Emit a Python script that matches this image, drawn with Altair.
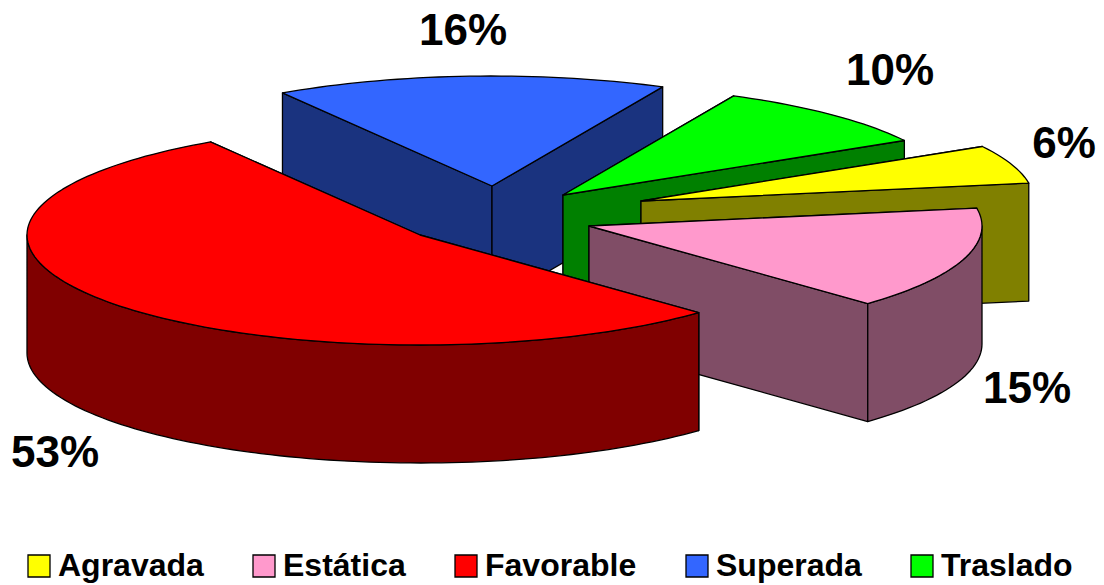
import math
import altair as alt
import pandas as pd

# ---- data
categories = ["Agravada", "Estática", "Favorable", "Superada", "Traslado"]
shares = [5.65, 15.05, 53.6, 16.1, 9.6]   # share of the drawn circle, as measured
labels = ["6%", "15%", "53%", "16%", "10%"]
top_colors = ["#ffff00", "#ff99cc", "#ff0000", "#3366ff", "#00ff00"]
side_colors = ["#808000", "#804d66", "#800000", "#1a337f", "#008000"]

# ---- layout of the exploded, tilted pie (pixels of the plot area)
W, H = 1088, 575
RX, RY, DEPTH = 393, 110, 118
START = 330.3
apex_x = [633, 581, 412, 484, 555]
apex_y = [193, 218, 227, 178, 187]
label_x = [1056, 1019, 47, 455, 882]
label_y = [137, 382, 446, 24, 64]
draw_order = [3, 4, 0, 1, 2]


def rim(cx, cy, a0, a1):
    n = max(2, int(abs(a1 - a0) / 1.5))
    return [(cx + RX * math.cos(math.radians(a0 + (a1 - a0) * i / n)),
             cy + RY * math.sin(math.radians(a0 + (a1 - a0) * i / n))) for i in range(n + 1)]


def feature(points, key):
    ring = [[float(x), float(y)] for x, y in points]
    ring.append(ring[0])
    return {"type": "Feature", "properties": {"key": key},
            "geometry": {"type": "Polygon", "coordinates": [ring]}}


def drop(points):
    return [(x, y + DEPTH) for x, y in points]


starts, a = [], START
for s in shares:
    starts.append(a)
    a += s * 3.6

features = []
for i in draw_order:
    cx, cy = apex_x[i], apex_y[i]
    a0 = starts[i]
    a1 = a0 + shares[i] * 3.6
    side = categories[i] + " (lado)"
    arc = rim(cx, cy, a0, a1)
    for end in (arc[0], arc[-1]):
        wall = [(cx, cy), end]
        features.append(feature(wall + drop(wall)[::-1], side))
    # outer wall: only the part of the rim that faces the viewer
    for k in range(-1, 2):
        lo, hi = max(a0, k * 360), min(a1, k * 360 + 180)
        if hi > lo:
            band = rim(cx, cy, lo, hi)
            features.append(feature(band + drop(band)[::-1], side))
    features.append(feature([(cx, cy)] + arc, categories[i]))

fill_domain = categories + [c + " (lado)" for c in categories]
fill_range = top_colors + side_colors

pie = alt.Chart(alt.InlineData(values=features)).mark_geoshape(
    stroke="black", strokeWidth=1.3, strokeJoin="round"
).encode(
    fill=alt.Fill(
        "properties.key:N",
        scale=alt.Scale(domain=fill_domain, range=fill_range),
        legend=alt.Legend(
            values=categories, title=None, orient="none", legendX=15, legendY=542,
            direction="horizontal", columns=5, symbolType="square", symbolSize=484,
            symbolStrokeColor="black", symbolStrokeWidth=1.3, labelFont="Liberation Sans",
            labelFontWeight="bold", labelFontSize=32, labelColor="black", labelLimit=400,
            columnPadding=44, labelOffset=3, padding=0, gridAlign="none",
        ),
    )
).project(type="identity", scale=1, translate=[0, 0])

df = pd.DataFrame({"label": labels, "x": label_x, "y": label_y})
text = alt.Chart(df).mark_text(
    font="Liberation Sans", fontWeight="bold", fontSize=44, color="black",
    align="center", baseline="middle",
).encode(
    x=alt.X("x:Q", scale=alt.Scale(domain=[0, W]), axis=None),
    y=alt.Y("y:Q", scale=alt.Scale(domain=[H, 0]), axis=None),
    text="label:N",
)

chart = alt.layer(pie, text).properties(
    width=W, height=H, padding=0, autosize=alt.AutoSizeParams(type="none"),
    background="white",
).configure_view(stroke=None)

chart.save("out.html", embed_options={"renderer": "svg", "actions": False})
